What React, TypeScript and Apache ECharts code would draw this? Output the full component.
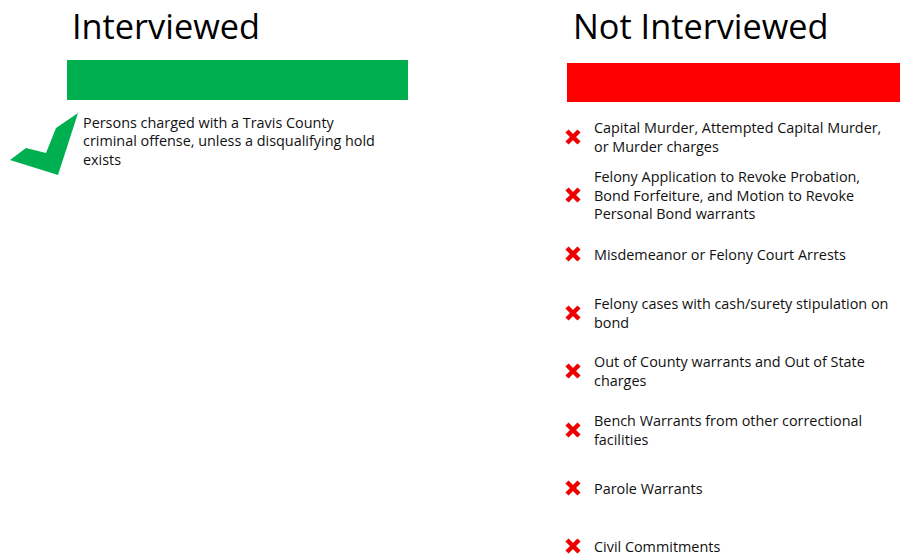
import React, { useEffect, useRef } from "react";
import * as echarts from "echarts";

const leftTitle = "Interviewed";
const rightTitle = "Not Interviewed";
const interviewedLines = [
  "Persons charged with a Travis County",
  "criminal offense, unless a disqualifying hold",
  "exists",
];
const notInterviewedItems: string[][] = [
  ["Capital Murder, Attempted Capital Murder,", "or Murder charges"],
  ["Felony Application to Revoke Probation,", "Bond Forfeiture, and Motion to Revoke", "Personal Bond warrants"],
  ["Misdemeanor or Felony Court Arrests"],
  ["Felony cases with cash/surety stipulation on", "bond"],
  ["Out of County warrants and Out of State", "charges"],
  ["Bench Warrants from other correctional", "facilities"],
  ["Parole Warrants"],
  ["Civil Commitments"],
];
const itemCenters = [137, 195, 254, 313, 371, 430, 488, 546];

const FONT = "'Open Sans', Lato, sans-serif";
const LINE_H = 18.6;
const BODY_SIZE = 14.4;

export default function App() {
  const ref = useRef<HTMLDivElement>(null);
  useEffect(() => {
    document.body.style.margin = "0";
    const chart = echarts.init(ref.current!, null, { renderer: "svg" });
    const elements: any[] = [];
    elements.push({
      type: "text",
      x: 72,
      y: 25,
      style: { text: leftTitle, fontSize: 34.3, fontFamily: FONT, fill: "#000", verticalAlign: "middle" },
    });
    elements.push({
      type: "text",
      x: 573,
      y: 25,
      style: { text: rightTitle, fontSize: 34.3, fontFamily: FONT, fill: "#000", verticalAlign: "middle" },
    });
    elements.push({
      type: "rect",
      shape: { x: 67, y: 60, width: 341, height: 40 },
      style: { fill: "#00b050" },
    });
    elements.push({
      type: "rect",
      shape: { x: 567, y: 63, width: 333, height: 39 },
      style: { fill: "#ff0000" },
    });
    elements.push({
      type: "polygon",
      shape: {
        points: [
          [78, 113],
          [56, 128],
          [46, 153],
          [26, 148],
          [10, 160],
          [58, 175],
        ],
      },
      style: { fill: "#00b050" },
    });
    interviewedLines.forEach((t, i) => {
      elements.push({
        type: "text",
        x: 83,
        y: 122 + i * LINE_H,
        style: {
          text: t,
          fontSize: BODY_SIZE,
          fontFamily: FONT,
          fill: "#111",
          verticalAlign: "middle",
          align: "left",
        },
      });
    });
    notInterviewedItems.forEach((lines, k) => {
      const c = itemCenters[k];
      const cx = 573;
      const s = 6;
      elements.push({
        type: "line",
        shape: { x1: cx - s, y1: c - s, x2: cx + s, y2: c + s },
        style: { stroke: "#ee0000", lineWidth: 4.5 },
      });
      elements.push({
        type: "line",
        shape: { x1: cx - s, y1: c + s, x2: cx + s, y2: c - s },
        style: { stroke: "#ee0000", lineWidth: 4.5 },
      });
      const start = c - ((lines.length - 1) * LINE_H) / 2;
      lines.forEach((t, i) => {
        elements.push({
          type: "text",
          x: 594,
          y: start + i * LINE_H,
          style: {
            text: t,
            fontSize: BODY_SIZE,
            fontFamily: FONT,
            fill: "#111",
            verticalAlign: "middle",
            align: "left",
          },
        });
      });
    });
    chart.setOption({
      animation: false,
      backgroundColor: "#fff",
      graphic: { elements },
    });
    return () => chart.dispose();
  }, []);
  return <div ref={ref} style={{ width: 900, height: 554 }} />;
}
